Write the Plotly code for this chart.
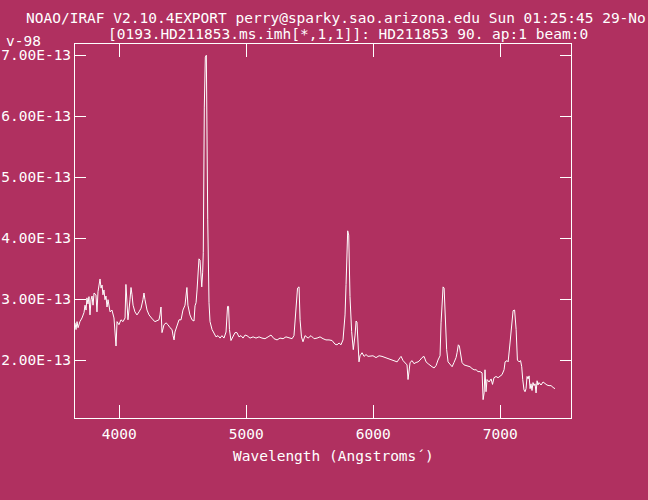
import plotly.graph_objects as go

# Wavelength (Angstroms) and flux (in units of 1E-13)
wavelength = [
    3652, 3660, 3668, 3676, 3691, 3707, 3723, 3731, 3739, 3746, 3754, 3762, 3770, 3778, 3786, 3794,
    3802, 3817, 3825, 3833, 3849, 3857, 3865, 3872, 3880, 3888, 3896, 3904, 3912, 3928, 3943, 3959,
    3975, 3983, 3998, 4014, 4030, 4046, 4053, 4061, 4069, 4085, 4093, 4101, 4109, 4124, 4140, 4156,
    4172, 4187, 4195, 4203, 4219, 4235, 4250, 4266, 4282, 4298, 4313, 4321, 4329, 4337, 4353, 4369,
    4384, 4400, 4416, 4424, 4432, 4439, 4455, 4471, 4487, 4502, 4518, 4526, 4533, 4541, 4557, 4573,
    4589, 4597, 4605, 4613, 4620, 4628, 4636, 4644, 4650, 4657, 4662, 4670, 4678, 4686, 4690, 4697,
    4707, 4715, 4731, 4746, 4762, 4778, 4794, 4809, 4825, 4841, 4853, 4861, 4868, 4880, 4896, 4912,
    4927, 4943, 4959, 4975, 4991, 5006, 5030, 5054, 5077, 5101, 5124, 5148, 5172, 5195, 5219, 5243,
    5266, 5290, 5313, 5337, 5361, 5376, 5392, 5404, 5416, 5424, 5435, 5447, 5463, 5487, 5510, 5534,
    5558, 5581, 5605, 5628, 5652, 5676, 5699, 5715, 5731, 5746, 5762, 5778, 5786, 5791, 5799, 5807,
    5811, 5817, 5830, 5843, 5857, 5865, 5872, 5880, 5888, 5896, 5912, 5928, 5943, 5959, 5975, 5998,
    6022, 6046, 6069, 6093, 6117, 6140, 6164, 6188, 6211, 6219, 6235, 6250, 6266, 6274, 6282, 6290,
    6306, 6321, 6337, 6353, 6369, 6384, 6400, 6416, 6432, 6447, 6463, 6479, 6495, 6510, 6526, 6534,
    6542, 6550, 6558, 6565, 6578, 6589, 6605, 6621, 6636, 6652, 6660, 6670, 6678, 6689, 6699, 6715,
    6731, 6747, 6762, 6778, 6794, 6810, 6825, 6841, 6857, 6865, 6873, 6880, 6888, 6896, 6912, 6928,
    6939, 6951, 6967, 6983, 6998, 7014, 7030, 7038, 7054, 7062, 7077, 7091, 7101, 7113, 7125, 7135,
    7148, 7160, 7169, 7177, 7187, 7195, 7203, 7211, 7219, 7227, 7235, 7242, 7250, 7258, 7266, 7274,
    7282, 7290, 7297, 7305, 7321, 7337, 7352, 7368, 7384, 7400, 7416, 7431,
]
flux_e13 = [
    2.61, 2.50, 2.63, 2.53, 2.63, 2.69, 2.78, 2.90, 2.82, 3.02, 2.92, 3.04, 2.74, 2.99, 3.05, 2.90,
    3.10, 3.07, 2.79, 3.12, 3.33, 3.18, 3.23, 3.07, 3.15, 2.99, 3.05, 2.87, 2.99, 2.79, 2.82, 2.69,
    2.23, 2.63, 2.58, 2.66, 2.63, 2.69, 3.24, 2.82, 2.66, 2.99, 3.19, 3.07, 2.90, 2.79, 2.74, 2.79,
    2.85, 2.99, 3.10, 2.99, 2.82, 2.74, 2.69, 2.66, 2.63, 2.64, 2.66, 2.74, 2.87, 2.45, 2.58, 2.61,
    2.58, 2.53, 2.50, 2.40, 2.33, 2.46, 2.58, 2.66, 2.66, 2.82, 2.90, 3.07, 3.19, 2.90, 2.74, 2.66,
    2.64, 2.89, 2.94, 3.15, 3.40, 3.66, 3.64, 3.40, 3.20, 3.43, 3.76, 6.15, 6.97, 7.00, 5.33, 4.30,
    2.94, 2.63, 2.50, 2.43, 2.38, 2.40, 2.36, 2.40, 2.36, 2.46, 2.88, 2.88, 2.50, 2.32, 2.40, 2.45,
    2.45, 2.38, 2.40, 2.36, 2.41, 2.40, 2.36, 2.38, 2.36, 2.38, 2.36, 2.35, 2.38, 2.41, 2.35, 2.33,
    2.36, 2.35, 2.38, 2.36, 2.35, 2.40, 2.79, 3.18, 3.20, 2.66, 2.38, 2.30, 2.40, 2.36, 2.40, 2.35,
    2.36, 2.38, 2.35, 2.33, 2.33, 2.32, 2.26, 2.25, 2.28, 2.25, 2.33, 2.74, 3.24, 3.86, 4.12, 4.05,
    3.45, 3.04, 2.47, 2.17, 2.41, 2.64, 2.62, 2.30, 1.97, 2.07, 2.12, 2.06, 2.09, 2.06, 2.06, 2.07,
    2.04, 2.07, 2.06, 2.04, 2.02, 2.00, 1.99, 1.97, 2.04, 2.06, 1.99, 1.96, 1.92, 1.68, 1.81, 1.96,
    1.99, 1.94, 1.96, 1.97, 2.00, 2.04, 2.06, 1.97, 1.94, 1.91, 1.89, 1.87, 1.91, 2.00, 2.07, 2.61,
    2.99, 3.20, 3.18, 2.82, 2.17, 1.97, 1.92, 1.89, 1.96, 2.04, 2.12, 2.25, 2.23, 2.07, 1.96, 1.92,
    1.91, 1.89, 1.89, 1.86, 1.84, 1.84, 1.81, 1.81, 1.79, 1.35, 1.46, 1.84, 1.48, 1.68, 1.64, 1.69,
    1.60, 1.71, 1.73, 1.71, 1.74, 1.76, 1.84, 1.97, 1.99, 1.97, 2.28, 2.66, 2.81, 2.82, 2.50, 2.00,
    1.97, 1.99, 1.89, 1.68, 1.51, 1.48, 1.53, 1.73, 1.69, 1.74, 1.53, 1.61, 1.50, 1.63, 1.58, 1.61,
    1.46, 1.66, 1.59, 1.63, 1.59, 1.64, 1.61, 1.59, 1.58, 1.58, 1.55, 1.53,
]

x_tick_values = [4000, 5000, 6000, 7000]
x_tick_labels = ["4000", "5000", "6000", "7000"]
y_tick_values = [2, 3, 4, 5, 6, 7]
y_tick_labels = ["2.00E-13", "3.00E-13", "4.00E-13", "5.00E-13", "6.00E-13", "7.00E-13"]

header_line1 = "NOAO/IRAF V2.10.4EXPORT perry@sparky.sao.arizona.edu Sun 01:25:45 29-No"
header_line2 = "[0193.HD211853.ms.imh[*,1,1]]: HD211853 90. ap:1 beam:0"
header_line3 = "v-98"
x_title = "Wavelength (Angstroms\u00b4)"

BG = "#b03060"
FONT = "DejaVu Sans Mono"
FS = 14.5

fig = go.Figure()
fig.add_trace(go.Scatter(
    x=wavelength, y=flux_e13, mode="lines",
    line=dict(color="white", width=1), hoverinfo="skip", showlegend=False,
))

L, R, T, B = 75, 77, 44, 82
W, H = 648, 500
pw, ph = W - L - R, H - T - B

def px_x(px):
    return (px - L) / pw

def px_y(py):
    return (H - B - py) / ph

axis_common = dict(
    showline=True, linecolor="white", linewidth=1, mirror="ticks",
    ticks="inside", tickcolor="white", tickwidth=1,
    showgrid=False, zeroline=False, automargin=False,
    tickfont=dict(family=FONT, size=FS, color="white"),
)

fig.update_layout(
    width=W, height=H,
    margin=dict(l=L, r=R, t=T, b=B),
    paper_bgcolor=BG, plot_bgcolor=BG,
    font=dict(family=FONT, size=FS, color="white"),
    hovermode=False,
    xaxis=dict(range=[3652, 7557], tickvals=x_tick_values, ticktext=x_tick_labels,
               ticklen=13, ticklabelstandoff=3, **axis_common),
    yaxis=dict(range=[1.049, 7.185], tickvals=y_tick_values, ticktext=y_tick_labels,
               ticklen=11, **axis_common),
    annotations=[
        dict(text=header_line1, xref="paper", yref="paper", x=px_x(24), y=px_y(18),
             xanchor="left", yanchor="middle", showarrow=False),
        dict(text=header_line2, xref="paper", yref="paper", x=px_x(106), y=px_y(33.5),
             xanchor="left", yanchor="middle", showarrow=False),
        dict(text=header_line3, xref="paper", yref="paper", x=px_x(4), y=px_y(41),
             xanchor="left", yanchor="middle", showarrow=False),
        dict(text=x_title, xref="paper", yref="paper", x=px_x(333), y=px_y(456),
             xanchor="center", yanchor="middle", showarrow=False),
    ],
)

fig.write_html(
    "out.html",
    config={"displayModeBar": False, "staticPlot": True},
    post_script="document.body.style.margin='0';document.body.style.background='" + BG + "';",
)
